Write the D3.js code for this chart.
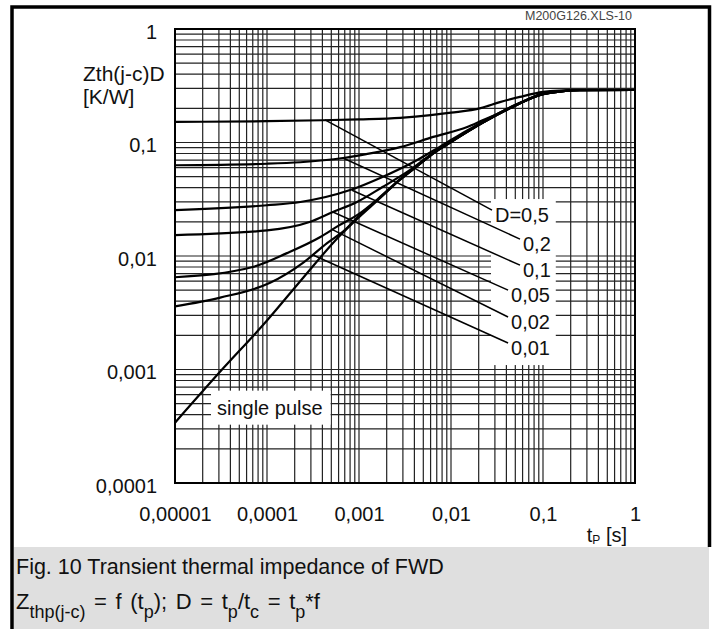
<!DOCTYPE html>
<html>
<head>
<meta charset="utf-8">
<script src="https://cdn.jsdelivr.net/npm/d3@7"></script>
<style>
html, body { margin: 0; padding: 0; background: #fff; }
svg { display: block; }
</style>
</head>
<body>
<div id="chart"></div>
<script>
var fontFam = "'Liberation Sans', Arial, Helvetica, sans-serif";

// axis ticks
var xTicks = [1e-5, 1e-4, 1e-3, 1e-2, 1e-1, 1];
var xTickLabels = ["0,00001", "0,0001", "0,001", "0,01", "0,1", "1"];
var yTicks = [1e-4, 1e-3, 1e-2, 1e-1, 1];
var yTickLabels = ["0,0001", "0,001", "0,01", "0,1", "1"];

// single pulse
var tSingle = [1e-5, 3e-5, 1e-4, 2.5e-4, 6e-4, 1e-3, 1.6e-3, 2.8e-3, 4.3e-3, 6.4e-3, 1e-2, 2.2e-2, 4.4e-2, 0.1, 0.15, 0.25, 1];
var zSingle = [3.4e-4, 9.3e-4, 2.7e-3, 6.5e-3, 0.0147, 0.022, 0.031, 0.047, 0.062, 0.08, 0.101, 0.149, 0.201, 0.266, 0.281, 0.289, 0.29];

// D = 0,5
var tD05 = [1e-5, 1e-4, 4e-4, 1e-3, 2.8e-3, 6e-3, 1e-2, 2.1e-2, 3.4e-2, 5.6e-2, 0.1, 0.15, 0.25, 1];
var zD05 = [0.152, 0.154, 0.157, 0.16, 0.165, 0.174, 0.183, 0.201, 0.227, 0.252, 0.279, 0.287, 0.29, 0.29];

// D = 0,2
var tD02 = [1e-5, 1e-4, 2.3e-4, 6.7e-4, 1.2e-3, 2.8e-3, 6.4e-3, 1.5e-2, 2.2e-2, 3.4e-2, 4.4e-2, 6.7e-2, 0.1, 0.15, 0.25, 1];
var zD02 = [0.063, 0.065, 0.067, 0.073, 0.079, 0.091, 0.112, 0.137, 0.157, 0.183, 0.205, 0.238, 0.272, 0.284, 0.29, 0.29];

// D = 0,1
var tD01 = [1e-5, 1e-4, 2.3e-4, 8e-4, 1.8e-3, 4.3e-3, 7.6e-3, 1.5e-2, 2.2e-2, 4.4e-2, 0.1, 0.15, 0.25, 1];
var zD01 = [0.0254, 0.028, 0.0299, 0.0381, 0.0497, 0.0701, 0.092, 0.128, 0.152, 0.203, 0.268, 0.282, 0.289, 0.29];

// D = 0,05
var tD005 = [1e-5, 1e-4, 2.9e-4, 5.2e-4, 9.5e-4, 1.8e-3, 3.6e-3, 6.4e-3, 1e-2, 2.2e-2, 4.4e-2, 0.1, 0.15, 0.25, 1];
var zD005 = [0.0153, 0.0168, 0.0199, 0.0244, 0.0299, 0.0405, 0.0573, 0.081, 0.102, 0.15, 0.202, 0.267, 0.281, 0.289, 0.29];

// D = 0,02
var tD002 = [1e-5, 7e-5, 1.65e-4, 3.8e-4, 6e-4, 1e-3, 1.6e-3, 2.8e-3, 4.3e-3, 6.4e-3, 1e-2, 2.2e-2, 4.4e-2, 0.1, 0.15, 0.25, 1];
var zD002 = [0.0065, 0.008, 0.0106, 0.0147, 0.0185, 0.0235, 0.0318, 0.0475, 0.0622, 0.0802, 0.1012, 0.1492, 0.2012, 0.2662, 0.2812, 0.289, 0.29];

// D = 0,01
var tD001 = [1e-5, 3.1e-5, 1.08e-4, 2.46e-4, 4.5e-4, 7e-4, 1e-3, 1.6e-3, 2.8e-3, 4.3e-3, 6.4e-3, 1e-2, 2.2e-2, 4.4e-2, 0.1, 0.15, 0.25, 1];
var zD001 = [0.0036, 0.0043, 0.0058, 0.0087, 0.013, 0.0169, 0.0226, 0.0314, 0.0472, 0.0621, 0.0801, 0.1011, 0.1491, 0.2011, 0.2661, 0.2811, 0.289, 0.29];

// curve labels and their leader lines (t, Z)
var dLabels = ["D=0,5", "0,2", "0,1", "0,05", "0,02", "0,01"];
var leaderFrom = [[4.27e-4, 0.158], [6.7e-4, 0.073], [8.4e-4, 0.038], [5.2e-4, 0.0244], [5.2e-4, 0.017], [3.16e-4, 0.0102]];
var leaderTo = [[0.0279, 0.0254], [0.0562, 0.0141], [0.0562, 0.0083], [0.0417, 0.0050], [0.0417, 0.0029], [0.0417, 0.00171]];
var pulseLabel = "single pulse";
var pulseLabelAt = [2.86e-5, 4.0e-4];

var series = [
  {t: tSingle, z: zSingle},
  {t: tD05, z: zD05},
  {t: tD02, z: zD02},
  {t: tD01, z: zD01},
  {t: tD005, z: zD005},
  {t: tD002, z: zD002},
  {t: tD001, z: zD001}
];

var W = 715, H = 629;
var margin = {left: 175, top: 29};
var width = 460, height = 454;

var svg = d3.select("#chart")
  .append("svg")
    .attr("width", W)
    .attr("height", H)
    .attr("font-family", fontFam);

// caption box and frame
svg.append("rect")
  .attr("x", 14).attr("y", 547)
  .attr("width", 695).attr("height", H - 547)
  .attr("fill", "#dfdfdf");

svg.append("path")
  .attr("d", "M12," + H + " V7 H709.5 V547")
  .attr("fill", "none")
  .attr("stroke", "#000")
  .attr("stroke-width", 3.5);

var g = svg.append("g")
  .attr("transform", "translate(" + margin.left + "," + margin.top + ")");

var x = d3.scaleLog().domain([1e-5, 1]).range([0, width]);
var y = d3.scaleLog().domain([1e-4, 1]).range([height, 0]);

// grid
var grid = g.append("g").attr("stroke", "#222").attr("stroke-width", 1.2);
grid.selectAll(".vx")
  .data(x.ticks())
  .enter().append("line")
    .attr("x1", function(d) { return x(d); })
    .attr("x2", function(d) { return x(d); })
    .attr("y1", 0)
    .attr("y2", height);
grid.selectAll(".hy")
  .data(y.ticks())
  .enter().append("line")
    .attr("y1", function(d) { return y(d); })
    .attr("y2", function(d) { return y(d); })
    .attr("x1", 0)
    .attr("x2", width);

var maskLayer = g.append("g");
var curveLayer = g.append("g");
var labelLayer = g.append("g").attr("font-size", 20).attr("fill", "#111");

// curves
var line = d3.line()
  .x(function(d) { return x(d[0]); })
  .y(function(d) { return y(d[1]); })
  .curve(d3.curveMonotoneX);

series.forEach(function(s) {
  curveLayer.append("path")
    .datum(d3.zip(s.t, s.z))
    .attr("fill", "none")
    .attr("stroke", "#000")
    .attr("stroke-width", 2.2)
    .attr("d", line);
});

// leaders
curveLayer.selectAll(".leader")
  .data(dLabels)
  .enter().append("line")
    .attr("x1", function(d, i) { return x(leaderFrom[i][0]); })
    .attr("y1", function(d, i) { return y(leaderFrom[i][1]); })
    .attr("x2", function(d, i) { return x(leaderTo[i][0]); })
    .attr("y2", function(d, i) { return y(leaderTo[i][1]); })
    .attr("stroke", "#000")
    .attr("stroke-width", 1.5);

// curve labels
var dText = labelLayer.selectAll(".dlab")
  .data(dLabels)
  .enter().append("text")
    .attr("x", function(d, i) { return x(leaderTo[i][0]); })
    .attr("y", function(d, i) { return y(leaderTo[i][1]); })
    .attr("dx", 3)
    .attr("dy", 12)
    .text(function(d) { return d; });

var pText = labelLayer.append("text")
  .attr("x", x(pulseLabelAt[0]))
  .attr("y", y(pulseLabelAt[1]))
  .text(pulseLabel);

// white boxes behind the labels
var x0 = Infinity, y0 = Infinity, x1 = -Infinity, y1 = -Infinity;
dText.each(function() {
  var b = this.getBBox();
  x0 = Math.min(x0, b.x); y0 = Math.min(y0, b.y);
  x1 = Math.max(x1, b.x + b.width); y1 = Math.max(y1, b.y + b.height);
});
maskLayer.append("rect")
  .attr("x", x0 - 4).attr("y", y0 - 5)
  .attr("width", x1 - x0 + 9).attr("height", y1 - y0 + 11)
  .attr("fill", "#fff");

var pb = pText.node().getBBox();
maskLayer.append("rect")
  .attr("x", pb.x - 6).attr("y", pb.y - 6)
  .attr("width", pb.width + 14).attr("height", pb.height + 12)
  .attr("fill", "#fff");

// plot border
g.append("rect")
  .attr("width", width).attr("height", height)
  .attr("fill", "none")
  .attr("stroke", "#000")
  .attr("stroke-width", 2);

// axes
var xAx = g.append("g")
  .attr("transform", "translate(0," + height + ")")
  .call(d3.axisBottom(x)
    .tickValues(xTicks)
    .tickFormat(function(d, i) { return xTickLabels[i]; })
    .tickSize(0)
    .tickPadding(24));
xAx.select(".domain").remove();
xAx.attr("font-size", 20).attr("font-family", fontFam);
xAx.selectAll("text").attr("fill", "#111");

var yAx = g.append("g")
  .call(d3.axisLeft(y)
    .tickValues(yTicks)
    .tickFormat(function(d, i) { return yTickLabels[i]; })
    .tickSize(0)
    .tickPadding(18));
yAx.select(".domain").remove();
yAx.attr("font-size", 20).attr("font-family", fontFam);
yAx.selectAll("text").attr("fill", "#111").attr("dy", "0.45em");

// axis titles
svg.append("text")
  .attr("x", 83).attr("y", 81)
  .attr("font-size", 21).attr("fill", "#111")
  .text("Zth(j-c)D");
svg.append("text")
  .attr("x", 83).attr("y", 104)
  .attr("font-size", 21).attr("fill", "#111")
  .text("[K/W]");

var xt = svg.append("text")
  .attr("x", 627).attr("y", 542)
  .attr("text-anchor", "end")
  .attr("font-size", 20).attr("fill", "#111");
xt.append("tspan").text("t");
xt.append("tspan").attr("font-size", 12).attr("dy", 2).text("P");
xt.append("tspan").attr("dy", -2).text(" [s]");

svg.append("text")
  .attr("x", 632).attr("y", 20)
  .attr("text-anchor", "end")
  .attr("font-size", 12.5).attr("fill", "#444")
  .text("M200G126.XLS-10");

// caption
svg.append("text")
  .attr("x", 16).attr("y", 574)
  .attr("font-size", 21.5).attr("fill", "#111")
  .text("Fig. 10 Transient thermal impedance of FWD");

var cap = svg.append("text")
  .attr("x", 16).attr("y", 609)
  .attr("font-size", 22).attr("fill", "#111")
  .attr("word-spacing", 2.5);
var parts = [["Z", 0], ["thp(j-c)", 1], [" = f (t", 0], ["p", 1], ["); D = t", 0], ["p", 1], ["/t", 0], ["c", 1], [" = t", 0], ["p", 1], ["*f", 0]];
var prevSub = 0;
parts.forEach(function(p) {
  var ts = cap.append("tspan").text(p[0]);
  if (p[1] !== prevSub) ts.attr("dy", p[1] ? 9 : -9);
  if (p[1]) ts.attr("font-size", 18);
  prevSub = p[1];
});
</script>
</body>
</html>
